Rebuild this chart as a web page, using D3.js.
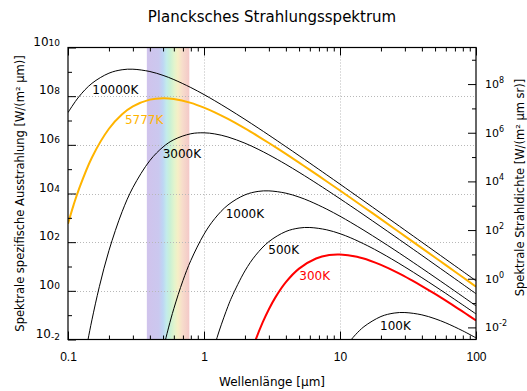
<!DOCTYPE html>
<html><head><meta charset="utf-8">
<script src="https://cdn.jsdelivr.net/npm/d3@7"></script>
<style>
body{margin:0;background:#fff}
svg{display:block;font-family:"DejaVu Sans",Verdana,sans-serif}
</style>
</head><body>
<svg id="chart" width="527" height="391"></svg>
<script>
// Planck spectra: wavelength samples (µm) and log10 of the spectral exitance (W/(m² µm))
const temperatures = [10000, 5777, 3000, 1000, 500, 300, 100];

const wl10000 = [0.1,0.12,0.15,0.2,0.25,0.3,0.4,0.5,0.6,0.8,1,1.2,1.5,2,2.5,3,4,5,6,8,10,12,15,20,25,30,40,50,60,80,100];
const lg10000 = [7.325,7.970,8.527,8.944,9.086,9.108,9.013,8.854,8.682,8.355,8.066,7.812,7.486,7.046,6.693,6.399,5.926,5.555,5.249,4.763,4.384,4.072,3.690,3.195,2.811,2.496,1.999,1.613,1.297,0.799,0.412];

const wl5777 = [0.1,0.11,0.12,0.15,0.2,0.25,0.3,0.4,0.5,0.6,0.8,1,1.2,1.5,2,2.5,3,4,5,6,8,10,12,15,20,25,30,40,50,60,80,100];
const lg5777 = [2.757,3.533,4.163,5.482,6.660,7.257,7.582,7.859,7.918,7.886,7.725,7.529,7.334,7.063,6.675,6.351,6.076,5.626,5.268,4.971,4.495,4.122,3.814,3.436,2.946,2.563,2.250,1.755,1.370,1.055,0.558,0.171];

const wl3000 = [0.13,0.14,0.15,0.17,0.2,0.25,0.3,0.4,0.5,0.6,0.8,1,1.2,1.5,2,2.5,3,4,5,6,8,10,12,15,20,25,30,40,50,60,80,100];
const lg3000 = [-3.02,-2.035,-1.193,0.169,1.654,3.252,4.245,5.355,5.912,6.211,6.455,6.494,6.449,6.322,6.068,5.819,5.591,5.198,4.871,4.594,4.143,3.784,3.486,3.117,2.635,2.258,1.949,1.458,1.075,0.762,0.267,-0.118];

const wl1000 = [0.5,0.55,0.6,0.7,0.8,1,1.2,1.5,2,2.5,3,4,5,6,8,10,12,15,20,25,30,40,50,60,80,100];
const lg1000 = [-2.419,-1.490,-0.732,0.421,1.247,2.325,2.970,3.527,3.944,4.086,4.108,4.013,3.854,3.682,3.355,3.066,2.812,2.486,2.046,1.693,1.399,0.926,0.555,0.249,-0.237,-0.617];

const wl500 = [1.1,1.2,1.3,1.5,1.6,2,2.4,3,4,5,6,8,10,12,16,20,24,30,40,50,60,80,100];
const lg500 = [-2.995,-2.237,-1.610,-0.639,-0.258,0.819,1.465,2.022,2.439,2.580,2.603,2.507,2.348,2.177,1.850,1.561,1.307,0.981,0.540,0.187,-0.107,-0.579,-0.950];

const wl300 = [2.2,2.4,2.7,3,3.333,4,5,6.667,8.333,10,13.33,16.67,20,26.67,33.33,40,50,66.67,83.33,100];
const lg300 = [-2.606,-2.007,-1.298,-0.756,-0.290,0.356,0.913,1.330,1.471,1.494,1.398,1.239,1.068,0.741,0.451,0.198,-0.129,-0.569,-0.922,-1.216];

const wl100 = [10,11,12,13,15,20,25,30,40,50,60,80,100];
const lg100 = [-2.676,-2.315,-2.030,-1.803,-1.473,-1.056,-0.914,-0.892,-0.987,-1.147,-1.318,-1.645,-1.934];

const curveLabels = ["10000K","5777K","3000K","1000K","500K","300K","100K"];
const labelWavelength = [0.151, 0.262, 0.497, 1.444, 2.97, 5.02, 19.7];
const labelLog = [8.089, 6.856, 5.458, 3.005, 1.513, 0.444, -1.61];

const visibleBand = [0.38, 0.78];
const xTickValues = [0.1, 1, 10, 100];
const xTickLabels = ["0.1", "1", "10", "100"];
const leftExponents = [-2, 0, 2, 4, 6, 8, 10];
const rightExponents = [-2, 0, 2, 4, 6, 8];

const wavelengths = [wl10000, wl5777, wl3000, wl1000, wl500, wl300, wl100];
const logValues = [lg10000, lg5777, lg3000, lg1000, lg500, lg300, lg100];
const curveColor = {5777: "#ffb400", 300: "#ff0000"};

// layout
const L = 68, R = 476, T = 47.5, B = 339.5;
const svg = d3.select("#chart");

const x = d3.scaleLog().domain([0.1, 100]).range([L, R]);
const y = d3.scaleLog().domain([1e-2, 1e10]).range([B, T]);
// radiance axis: exitance divided by pi
const yR = d3.scaleLog().domain([1e-2 / Math.PI, 1e10 / Math.PI]).range([B, T]);

const defs = svg.append("defs");
defs.append("clipPath").attr("id", "plot").append("rect")
  .attr("x", L).attr("y", T).attr("width", R - L).attr("height", B - T);

const grad = defs.append("linearGradient").attr("id", "rainbow")
  .attr("x1", "0").attr("x2", "1").attr("y1", "0").attr("y2", "0");
[[0, "#d0c3ec"], [0.28, "#cbc8ef"], [0.38, "#bed6f4"], [0.46, "#c2ebeb"], [0.55, "#caf1d5"],
 [0.65, "#e3f4cc"], [0.73, "#f6efc6"], [0.84, "#f7dccb"], [1, "#f3c8c8"]]
  .forEach(([o, c]) => grad.append("stop").attr("offset", o).attr("stop-color", c));

// visible spectrum band
svg.append("rect")
  .attr("x", x(visibleBand[0])).attr("y", T)
  .attr("width", x(visibleBand[1]) - x(visibleBand[0])).attr("height", B - T)
  .attr("fill", "url(#rainbow)");

// dotted grid
const grid = svg.append("g").attr("stroke", "#b8b8b8").attr("stroke-width", 1)
  .attr("stroke-dasharray", "1,2").attr("fill", "none");
[1, 10].forEach(v => grid.append("line")
  .attr("x1", Math.round(x(v)) + 0.5).attr("x2", Math.round(x(v)) + 0.5).attr("y1", T).attr("y2", B));
leftExponents.filter(e => e > -2 && e < 10).forEach(e => grid.append("line")
  .attr("x1", L).attr("x2", R).attr("y1", Math.round(y(10 ** e)) + 0.5).attr("y2", Math.round(y(10 ** e)) + 0.5));

// curves
const line = d3.line()
  .x(d => x(d[0])).y(d => y(10 ** d[1]))
  .curve(d3.curveCatmullRom.alpha(0.5));
const curves = svg.append("g").attr("clip-path", "url(#plot)").attr("fill", "none");
temperatures.forEach((t, i) => {
  const pts = wavelengths[i].map((w, j) => [w, logValues[i][j]]);
  curves.append("path").attr("d", line(pts))
    .attr("stroke", curveColor[t] || "#000")
    .attr("stroke-width", curveColor[t] ? 2 : 1);
});

// curve labels
temperatures.forEach((t, i) => {
  svg.append("text")
    .attr("x", x(labelWavelength[i])).attr("y", y(10 ** labelLog[i]))
    .attr("font-size", 12).attr("fill", curveColor[t] || "#000")
    .text(curveLabels[i]);
});

// ticks (drawn inward) with d3 axes
const xMinor = [];
for (let d = 0.1; d < 99; d *= 10) for (let k = 2; k <= 9; k++) xMinor.push(+(d * k).toPrecision(3));
function styleAxis(g) { g.select(".domain").remove(); g.selectAll("line").attr("stroke", "#000"); }

svg.append("g").attr("transform", `translate(0,${B})`)
  .call(d3.axisBottom(x).tickValues(xMinor).tickSize(-4).tickFormat("")).call(styleAxis);
svg.append("g").attr("transform", `translate(0,${B})`)
  .call(d3.axisBottom(x).tickValues(xTickValues).tickSize(-8).tickSizeOuter(0).tickPadding(13)
    .tickFormat((d, i) => xTickLabels[i]))
  .call(styleAxis)
  .call(g => g.selectAll("text").attr("font-size", 12).attr("fill", "#000").attr("font-family", null));
svg.append("g").attr("transform", `translate(0,${T})`)
  .call(d3.axisTop(x).tickValues(xMinor).tickSize(-4).tickFormat("")).call(styleAxis);
svg.append("g").attr("transform", `translate(0,${T})`)
  .call(d3.axisTop(x).tickValues(xTickValues).tickSize(-8).tickFormat("")).call(styleAxis);

const leftMinor = d3.range(-1, 10, 2).map(e => 10 ** e);
svg.append("g").attr("transform", `translate(${L},0)`)
  .call(d3.axisLeft(y).tickValues(leftMinor).tickSize(-4).tickFormat("")).call(styleAxis);
svg.append("g").attr("transform", `translate(${L},0)`)
  .call(d3.axisLeft(y).tickValues(leftExponents.map(e => 10 ** e)).tickSize(-8).tickFormat("")).call(styleAxis);

const rightMinor = d3.range(-1, 10, 2).map(e => 10 ** e);
svg.append("g").attr("transform", `translate(${R},0)`)
  .call(d3.axisRight(yR).tickValues(rightMinor).tickSize(-4).tickFormat("")).call(styleAxis);
svg.append("g").attr("transform", `translate(${R},0)`)
  .call(d3.axisRight(yR).tickValues(rightExponents.map(e => 10 ** e)).tickSize(-8).tickFormat("")).call(styleAxis);

// frame
svg.append("rect").attr("x", L).attr("y", T).attr("width", R - L).attr("height", B - T)
  .attr("fill", "none").attr("stroke", "#000").attr("stroke-width", 1.2);

// left tick labels
leftExponents.forEach(e => {
  const t = svg.append("text").attr("x", 60).attr("y", y(10 ** e) - 2)
    .attr("text-anchor", "end").attr("fill", "#000");
  t.append("tspan").attr("font-size", 12).text("10");
  t.append("tspan").attr("font-size", 9).attr("dy", e < 0 ? 2 : 0).text(String(e));
});

// right tick labels
rightExponents.forEach(e => {
  const t = svg.append("text").attr("x", 485).attr("y", yR(10 ** e) + 4).attr("fill", "#000");
  t.append("tspan").attr("font-size", 11).text("10");
  t.append("tspan").attr("font-size", 8).attr("dy", -5).text(String(e));
});

// titles
svg.append("text").attr("x", (L + R) / 2).attr("y", 22).attr("text-anchor", "middle")
  .attr("font-size", 15).text("Plancksches Strahlungsspektrum");
svg.append("text").attr("x", (L + R) / 2).attr("y", 386).attr("text-anchor", "middle")
  .attr("font-size", 12).text("Wellenlänge [µm]");
svg.append("text").attr("transform", `translate(24,${(T + B) / 2}) rotate(-90)`)
  .attr("text-anchor", "middle").attr("font-size", 11.5)
  .text("Spektrale spezifische Ausstrahlung [W/(m² µm)]");
svg.append("text").attr("transform", `translate(524,${(T + B) / 2 - 6}) rotate(-90)`)
  .attr("text-anchor", "middle").attr("font-size", 11.5)
  .text("Spektrale Strahldichte [W/(m² µm sr)]");
</script>
</body></html>
